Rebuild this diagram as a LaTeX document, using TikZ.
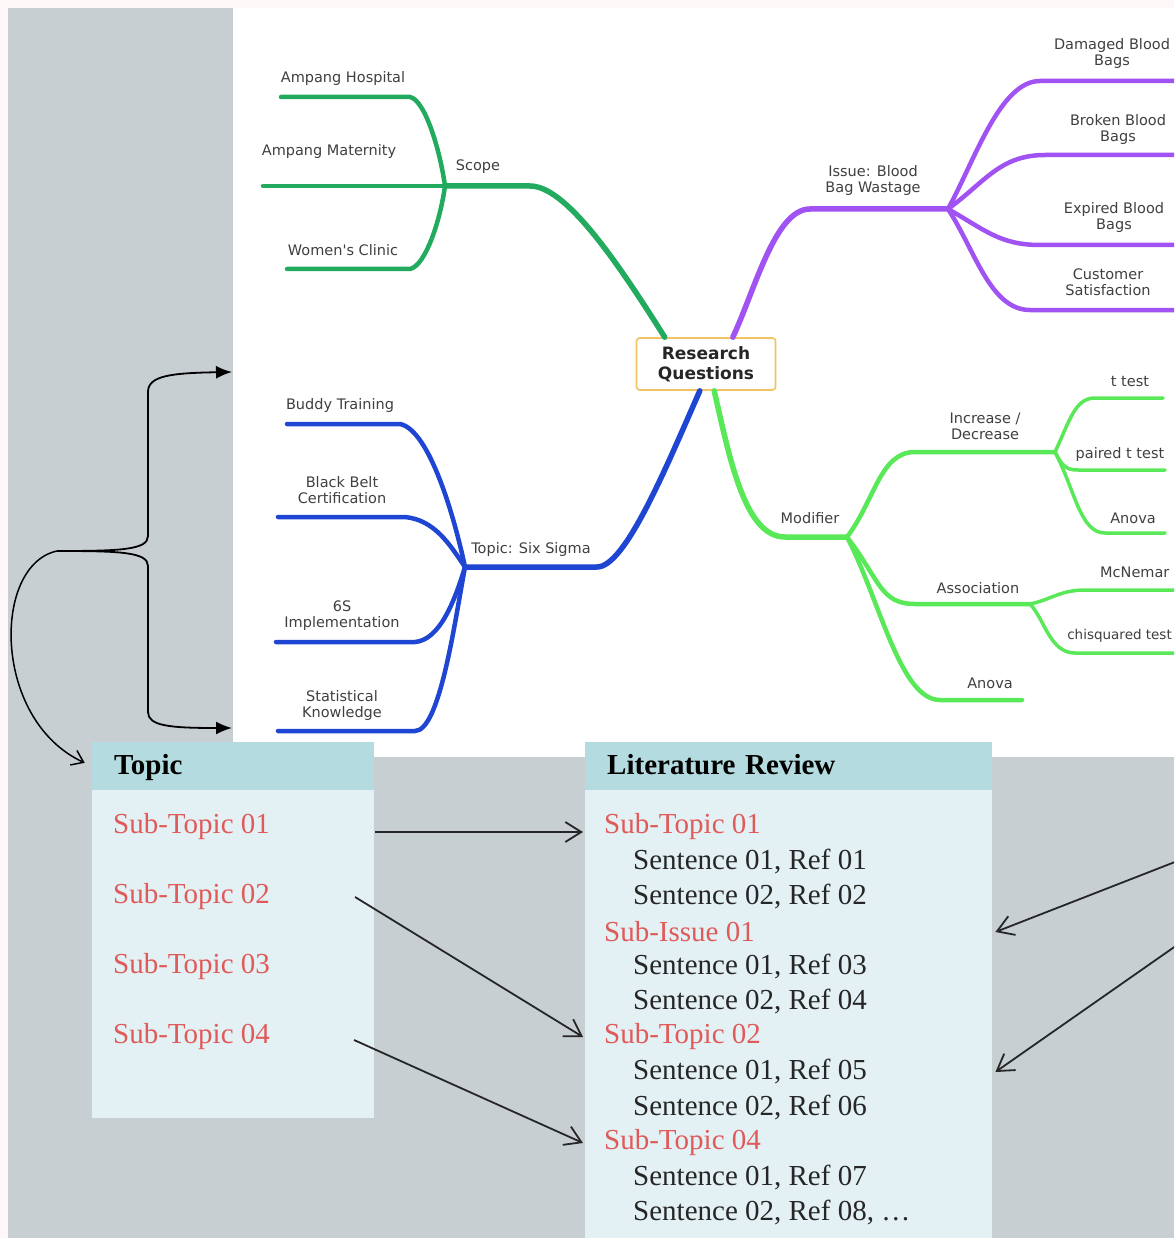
\documentclass[tikz,border=0pt]{standalone}
\usepackage{fontspec}
\setmainfont{Liberation Serif}
\newfontfamily\mapfont{DejaVu Sans}
\usetikzlibrary{arrows.meta,calc}

\definecolor{scopegreen}{HTML}{22AA5E}
\definecolor{issuepurple}{HTML}{A152F2}
\definecolor{topicblue}{HTML}{1E46D2}
\definecolor{modgreen}{HTML}{58E858}
\definecolor{rootorange}{HTML}{F3C263}
\definecolor{panelgray}{HTML}{C8CFD2}
\definecolor{headteal}{HTML}{B4DCE0}
\definecolor{bodyblue}{HTML}{E4F1F4}
\definecolor{subred}{HTML}{E05A5A}
\definecolor{framepink}{HTML}{FDF7F7}

\tikzset{maplabel/.style={ % Text sitting on the mind map branches
            font=\mapfont\fontsize{14.5}{16}\selectfont,
            text=black!75,
            align=center,
            inner sep=0pt},
        rootnode/.style={ % The question in the middle of the map
            draw=rootorange, line width=1.6pt, rounded corners=3pt,
            fill=white, text=black!85,
            font=\mapfont\bfseries\fontsize{17}{20}\selectfont,
            align=center, inner sep=0pt,
            minimum width=139pt, minimum height=52pt},
        branch/.style={line width=5.5pt, line cap=round},
        twig/.style={line width=4.5pt, line cap=round},
        boxhead/.style={ % Title band of a table
            fill=headteal, anchor=north west,
            minimum height=48pt, inner xsep=22pt, inner ysep=0pt,
            text height=20pt, text depth=4pt, align=left,
            font=\bfseries\fontsize{29}{34}\selectfont},
        boxbody/.style={fill=bodyblue, anchor=north west, inner sep=0pt},
        subtopic/.style={text=subred, anchor=west, inner sep=0pt,
            font=\fontsize{29}{34}\selectfont},
        sentence/.style={text=black!85, anchor=west, inner sep=0pt,
            font=\fontsize{29}{34}\selectfont},
        link/.style={ % Arrows between the tables
            -{Straight Barb[length=16pt,width=20pt]},
            line width=1.8pt, black!85},
        bracket/.style={-{Latex[length=16pt,width=13pt]}, line width=1.8pt},
        curl/.style={-{Straight Barb[length=11pt,width=16pt]}, line width=1.5pt}
        }

\begin{document}
\begin{tikzpicture}[x=1pt,y=-1pt]
    \useasboundingbox (0,0) rectangle (1174,1238);
    \clip (0,0) rectangle (1174,1238);

    % panels
    \fill[framepink] (0,0) rectangle (1174,1238);
    \fill[panelgray] (8,8) rectangle (233,1238);
    \fill[panelgray] (8,757) rectangle (1174,1238);
    \fill[white] (233,8) rectangle (1174,757);

    % mind map
    \node[rootnode] (rq) at (706,364) {Research\\Questions};

    \coordinate (scope) at (445,186);
    \coordinate (issue) at (948,209);
    \coordinate (sixsigma) at (465,567);
    \coordinate (modifier) at (847,537);
    \coordinate (incdec) at (1055,452);
    \coordinate (assoc) at (1030,604);

    \draw[branch, scopegreen] (rq.147) .. controls (615,258) and (565,186) .. (530,186) -- (scope);
    \draw[twig, scopegreen] (281,97) -- (410,97) .. controls (425,100) and (440,150) .. (scope);
    \draw[twig, scopegreen] (263,186) -- (scope);
    \draw[twig, scopegreen] (287,269) -- (410,269) .. controls (425,266) and (440,222) .. (scope);

    \draw[branch, issuepurple] (rq.45) .. controls (755,290) and (775,209) .. (810,209) -- (issue);
    \draw[twig, issuepurple] (issue) .. controls (975,160) and (1000,81) .. (1040,81) -- (1180,81);
    \draw[twig, issuepurple] (issue) .. controls (985,182) and (1000,155) .. (1045,155) -- (1180,155);
    \draw[twig, issuepurple] (issue) .. controls (985,230) and (1000,245) .. (1040,245) -- (1180,245);
    \draw[twig, issuepurple] (issue) .. controls (975,250) and (990,310) .. (1030,310) -- (1180,310);

    \draw[branch, topicblue] (rq.-103) .. controls (665,470) and (625,567) .. (597,567) -- (sixsigma);
    \draw[twig, topicblue] (287,424) -- (400,424) .. controls (430,430) and (455,520) .. (sixsigma);
    \draw[twig, topicblue] (278,517) -- (405,517) .. controls (435,520) and (450,545) .. (sixsigma);
    \draw[twig, topicblue] (276,642) -- (415,642) .. controls (440,640) and (455,600) .. (sixsigma);
    \draw[twig, topicblue] (278,731) -- (415,731) .. controls (440,731) and (455,620) .. (sixsigma);

    \draw[branch, modgreen] (rq.-73) .. controls (730,460) and (745,537) .. (785,537) -- (modifier);
    \draw[twig, modgreen] (modifier) .. controls (875,500) and (880,452) .. (915,452) -- (incdec);
    \draw[twig, modgreen] (modifier) .. controls (880,580) and (880,604) .. (915,604) -- (assoc);
    \draw[twig, modgreen] (modifier) .. controls (880,600) and (900,700) .. (940,700) -- (1022,700);
    \draw[twig, modgreen, line width=3.5pt] (incdec) .. controls (1070,420) and (1075,398) .. (1095,398) -- (1163,398);
    \draw[twig, modgreen, line width=3.5pt] (incdec) .. controls (1062,465) and (1065,470) .. (1078,470) -- (1165,470);
    \draw[twig, modgreen, line width=3.5pt] (incdec) .. controls (1075,490) and (1080,533) .. (1105,533) -- (1165,533);
    \draw[twig, modgreen, line width=3.5pt] (assoc) .. controls (1050,600) and (1060,590) .. (1085,590) -- (1180,590);
    \draw[twig, modgreen, line width=3.5pt] (assoc) .. controls (1045,620) and (1050,653) .. (1075,653) -- (1180,653);

    \node[maplabel] (scopelbl) at (478,167) {Scope};
    \node[maplabel] (hospital) at (343,79) {Ampang Hospital};
    \node[maplabel] (maternity) at (329,152) {Ampang Maternity};
    \node[maplabel] (clinic) at (343,250) {Women's Clinic};
    \node[maplabel] (issuelbl) at (873,181) {Issue: Blood\\Bag Wastage};
    \node[maplabel] (damaged) at (1112,54) {Damaged Blood\\Bags};
    \node[maplabel] (broken) at (1118,130) {Broken Blood\\Bags};
    \node[maplabel] (expired) at (1114,218) {Expired Blood\\Bags};
    \node[maplabel] (customer) at (1108,282) {Customer\\Satisfaction};
    \node[maplabel] (buddy) at (340,405) {Buddy Training};
    \node[maplabel] (blackbelt) at (342,490) {Black Belt\\Certification};
    \node[maplabel] (sixs) at (342,616) {6S\\Implementation};
    \node[maplabel] (stats) at (342,705) {Statistical\\Knowledge};
    \node[maplabel] (sixsigmalbl) at (531,549) {Topic: Six Sigma};
    \node[maplabel] (modlbl) at (810,518) {Modifier};
    \node[maplabel] (incdeclbl) at (985,426) {Increase /\\Decrease};
    \node[maplabel] (ttest) at (1130,382) {t test};
    \node[maplabel] (paired) at (1120,454) {paired t test};
    \node[maplabel] (anovaA) at (1133,518) {Anova};
    \node[maplabel] (assoclbl) at (978,588) {Association};
    \node[maplabel, anchor=west] (mcnemar) at (1100,572) {McNemar};
    \node[maplabel, anchor=east, font=\mapfont\fontsize{13.5}{16}\selectfont] (chisq) at (1172,636) {chisquared test};
    \node[maplabel] (anovaB) at (990,683) {Anova};

    % bracket on the left
    \coordinate (fork) at (57,551);
    \coordinate (mapTop) at (232,372);
    \coordinate (mapBottom) at (232,728);

    % topic table
    \node[boxbody, minimum width=282pt, minimum height=328pt] (topicbox) at (92,790) {};
    \node[boxhead, text width=238pt] (topichead) at (92,742) {Topic};
    \node[subtopic] (st1) at (113,827) {Sub-Topic 01};
    \node[subtopic] (st2) at (113,897) {Sub-Topic 02};
    \node[subtopic] (st3) at (113,967) {Sub-Topic 03};
    \node[subtopic] (st4) at (113,1037) {Sub-Topic 04};

    % literature review table
    \node[boxbody, minimum width=407pt, minimum height=460pt] (litbox) at (585,790) {};
    \node[boxhead, text width=363pt] (lithead) at (585,742) {Literature Review};
    \node[subtopic] (lst1) at (604,827) {Sub-Topic 01};
    \node[sentence] (lr1) at (633,862) {Sentence 01, Ref 01};
    \node[sentence] (lr2) at (633,897) {Sentence 02, Ref 02};
    \node[subtopic] (lsi1) at (604,932) {Sub-Issue 01};
    \node[sentence] (lr3) at (633,967) {Sentence 01, Ref 03};
    \node[sentence] (lr4) at (633,1002) {Sentence 02, Ref 04};
    \node[subtopic] (lst2) at (604,1037) {Sub-Topic 02};
    \node[sentence] (lr5) at (633,1072) {Sentence 01, Ref 05};
    \node[sentence] (lr6) at (633,1108) {Sentence 02, Ref 06};
    \node[subtopic] (lst4) at (604,1143) {Sub-Topic 04};
    \node[sentence] (lr7) at (633,1178) {Sentence 01, Ref 07};
    \node[sentence] (lr8) at (633,1213) {Sentence 02, Ref 08, \ldots};

    \coordinate (refA) at (1180,860);
    \coordinate (refB) at (1180,943);

    \draw[bracket] (fork) .. controls (120,551) and (148,550) .. (148,536)
        -- (148,392) .. controls (148,376) and (170,373) .. (mapTop);
    \draw[bracket] (fork) .. controls (120,551) and (148,552) .. (148,566)
        -- (148,712) .. controls (148,726) and (170,728) .. (mapBottom);
    \draw[curl, shorten >=8pt] (fork) .. controls (-8,565) and (-8,720) .. (topichead.west);

    \draw[link] ($(st1.east -| topicbox.east)+(1,5)$) -- ($(lst1.west -| litbox.west)+(-2,5)$);
    \draw[link] ($(st2.east)+(85,0)$) -- ($(lst2.west -| litbox.west)+(-2,0)$);
    \draw[link] ($(st4.east)+(84,3)$) -- ($(lst4.west -| litbox.west)+(-2,0)$);
    \draw[link] (refA) -- ($(lsi1.west -| litbox.east)+(3,0)$);
    \draw[link] (refB) -- ($(lr5.west -| litbox.east)+(3,0)$);
\end{tikzpicture}
\end{document}
